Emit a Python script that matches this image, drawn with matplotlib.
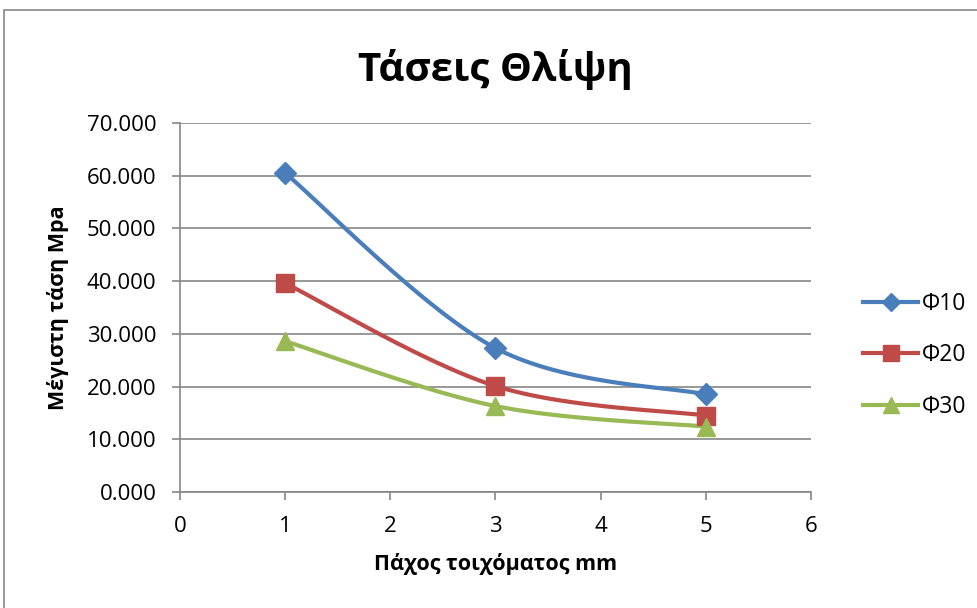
import numpy as np
import matplotlib.pyplot as plt
from matplotlib.patches import Rectangle
from matplotlib.ticker import FormatStrFormatter

plt.rcParams['font.family'] = ['Open Sans', 'DejaVu Sans']

# πάχος τοιχώματος (mm) και μέγιστη τάση (MPa)
thickness = [1, 3, 5]
phi10 = [60.5, 27.3, 18.5]
phi20 = [39.6, 20.1, 14.5]
phi30 = [28.6, 16.3, 12.4]
labels = ['Φ10', 'Φ20', 'Φ30']
colors = ['#4A7EBB', '#BE4B48', '#98B954']
markers = ['D', 's', '^']
msizes = [11, 13, 13]


def smooth(x, y, n=40):
    # καμπύλη Bezier τύπου Excel (Catmull-Rom) μέσα από τα σημεία
    x = np.asarray(x, float)
    y = np.asarray(y, float)
    px = np.concatenate([[x[0]], x, [x[-1]]])
    py = np.concatenate([[y[0]], y, [y[-1]]])
    xs, ys = [], []
    t = np.linspace(0, 1, n)
    for i in range(1, len(px) - 2):
        p0 = np.array([px[i], py[i]])
        p3 = np.array([px[i + 1], py[i + 1]])
        p1 = p0 + (np.array([px[i + 1], py[i + 1]]) - np.array([px[i - 1], py[i - 1]])) / 6
        p2 = p3 - (np.array([px[i + 2], py[i + 2]]) - np.array([px[i], py[i]])) / 6
        b = ((1 - t) ** 3)[:, None] * p0 + (3 * (1 - t) ** 2 * t)[:, None] * p1 \
            + (3 * (1 - t) * t ** 2)[:, None] * p2 + (t ** 3)[:, None] * p3
        xs.extend(b[:, 0])
        ys.extend(b[:, 1])
    return xs, ys


fig = plt.figure(figsize=(9.78, 6.08), dpi=100)
fig.patches.append(Rectangle((4 / 978, -0.05), 1.1, 1 - 10 / 608 + 0.05,
                             transform=fig.transFigure, fill=False,
                             edgecolor='#868686', lw=1.2))
ax = fig.add_axes([180 / 978, 1 - 492 / 608, 631 / 978, 369 / 608])

for ys, lab, c, m, ms in zip([phi10, phi20, phi30], labels, colors, markers, msizes):
    sx, sy = smooth(thickness, ys)
    ax.plot(sx, sy, color=c, lw=3, solid_capstyle='round', zorder=3)
    ax.plot(thickness, ys, linestyle='none', marker=m, color=c, ms=ms, zorder=4)
    ax.plot([], [], color=c, lw=3, marker=m, ms=ms * 0.85, label=lab)

ax.set_xlim(0, 6)
ax.set_ylim(0, 70)
ax.set_xticks(range(0, 7))
ax.set_yticks(np.arange(0, 71, 10))
ax.yaxis.set_major_formatter(FormatStrFormatter('%.3f'))
ax.grid(axis='y', color='#868686', lw=1.2)
ax.set_axisbelow(True)
for s in ['top', 'right']:
    ax.spines[s].set_visible(False)
for s in ['left', 'bottom']:
    ax.spines[s].set_color('#868686')
    ax.spines[s].set_linewidth(1.2)
ax.tick_params(direction='out', length=6, width=1.2, color='#868686',
               labelsize=16)
ax.tick_params(axis='y', pad=11)
ax.tick_params(axis='x', pad=11)

ax.set_title('Τάσεις Θλίψη', fontsize=29, fontweight='bold', pad=30)
ax.set_xlabel('Πάχος τοιχόματος mm', fontsize=15.5, fontweight='bold', labelpad=12)
ax.set_ylabel('Μέγιστη τάση Mpa', fontsize=15.5, fontweight='bold', labelpad=13)

ax.legend(loc='center left', bbox_to_anchor=(1.05, 0.37), frameon=False,
          fontsize=16.5, handlelength=2.4, handletextpad=0.15, labelspacing=1.2)

fig.savefig('out.png', dpi=100)
